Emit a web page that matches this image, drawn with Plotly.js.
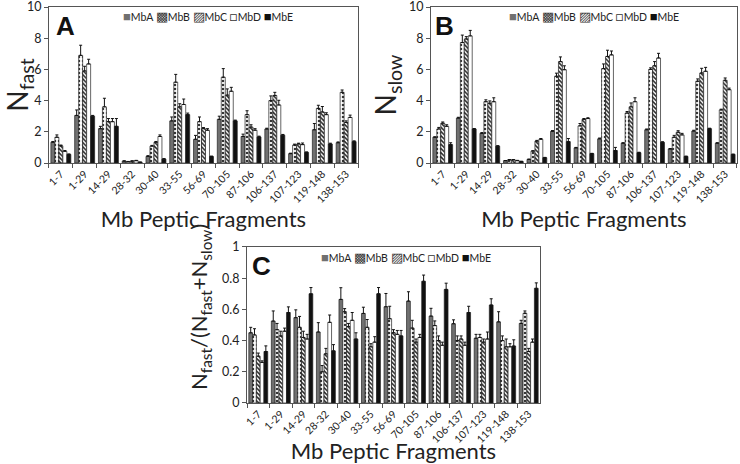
<!DOCTYPE html>
<html><head><meta charset="utf-8">
<script src="https://cdn.plot.ly/plotly-3.0.1.min.js"></script>
<style>html,body{margin:0;padding:0;background:#fff}#chart{width:740px;height:464px}</style>
</head><body><div id="chart"></div>
<script>
var fragments = ['1-7','1-29','14-29','28-32','30-40','33-55','56-69','70-105','87-106','106-137','107-123','119-148','138-153'];
var seriesNames = ['MbA','MbB','MbC','MbD','MbE'];

// Panel A: N_fast
var fastMbA = [1.33, 3.05, 2.2, 0.12, 0.42, 2.7, 1.52, 2.8, 1.7, 2.18, 0.6, 2.13, 1.3];
var fastMbB = [1.65, 6.9, 3.6, 0.08, 1.08, 5.18, 2.65, 5.5, 3.1, 4.0, 1.15, 3.5, 4.53];
var fastMbC = [1.1, 5.9, 2.65, 0.12, 1.33, 3.6, 2.2, 4.35, 2.3, 4.33, 1.22, 3.27, 2.6];
var fastMbD = [0.75, 6.35, 2.65, 0.15, 1.7, 3.75, 2.1, 4.6, 2.1, 3.72, 1.18, 3.1, 2.92];
var fastMbE = [0.55, 3.0, 2.35, 0.05, 0.25, 3.1, 0.42, 2.7, 1.67, 1.78, 0.68, 1.22, 1.37];
var fastErrA = [0.05, 0.35, 0.15, 0.02, 0.05, 0.25, 0.25, 0.2, 0.15, 0.05, 0.03, 0.4, 0.05];
var fastErrB = [0.15, 0.65, 0.55, 0.02, 0.05, 0.5, 0.3, 0.55, 0.25, 0.3, 0.06, 0.2, 0.15];
var fastErrC = [0.05, 0.3, 0.2, 0.02, 0.05, 0.2, 0.07, 0.4, 0.15, 0.2, 0.05, 0.35, 0.1];
var fastErrD = [0.05, 0.3, 0.2, 0.02, 0.1, 0.35, 0.1, 0.25, 0.1, 0.3, 0.1, 0.12, 0.15];
var fastErrE = [0.03, 0.05, 0.5, 0.01, 0.03, 0.1, 0.02, 0.05, 0.05, 0.05, 0.03, 0.05, 0.05];

// Panel B: N_slow
var slowMbA = [1.65, 2.88, 1.9, 0.15, 0.23, 2.03, 0.97, 1.55, 1.27, 2.13, 0.9, 2.05, 1.27];
var slowMbB = [2.18, 7.72, 3.93, 0.2, 0.76, 5.56, 2.38, 6.05, 3.2, 6.0, 1.65, 5.24, 3.4];
var slowMbC = [2.55, 7.95, 3.83, 0.2, 1.4, 6.5, 2.8, 6.83, 3.6, 6.23, 1.97, 5.77, 5.3];
var slowMbD = [2.35, 8.15, 3.93, 0.15, 1.52, 5.98, 2.85, 6.93, 3.93, 6.73, 1.8, 5.88, 4.7];
var slowMbE = [1.18, 2.18, 1.08, 0.1, 0.34, 1.37, 0.6, 0.8, 0.66, 1.33, 0.42, 2.2, 0.55];
var slowErrA = [0.03, 0.05, 0.05, 0.01, 0.02, 0.05, 0.03, 0.05, 0.03, 0.05, 0.03, 0.05, 0.03];
var slowErrB = [0.1, 0.48, 0.12, 0.02, 0.03, 0.2, 0.15, 0.3, 0.1, 0.1, 0.12, 0.15, 0.05];
var slowErrC = [0.08, 0.15, 0.15, 0.02, 0.05, 0.3, 0.05, 0.4, 0.25, 0.27, 0.1, 0.3, 0.15];
var slowErrD = [0.1, 0.35, 0.25, 0.02, 0.05, 0.25, 0.05, 0.25, 0.25, 0.3, 0.1, 0.25, 0.1];
var slowErrE = [0.12, 0.03, 0.03, 0.01, 0.02, 0.2, 0.02, 0.2, 0.03, 0.03, 0.02, 0.03, 0.02];

// Panel C: N_fast/(N_fast+N_slow)
var ratioMbA = [0.45, 0.525, 0.547, 0.455, 0.664, 0.574, 0.617, 0.653, 0.557, 0.508, 0.415, 0.52, 0.51];
var ratioMbB = [0.436, 0.47, 0.485, 0.2, 0.585, 0.485, 0.54, 0.48, 0.496, 0.40, 0.42, 0.40, 0.575];
var ratioMbC = [0.30, 0.43, 0.42, 0.315, 0.49, 0.36, 0.45, 0.39, 0.40, 0.41, 0.39, 0.36, 0.33];
var ratioMbD = [0.26, 0.46, 0.41, 0.517, 0.53, 0.39, 0.44, 0.42, 0.37, 0.37, 0.41, 0.36, 0.39];
var ratioMbE = [0.33, 0.58, 0.70, 0.334, 0.41, 0.70, 0.43, 0.78, 0.728, 0.58, 0.628, 0.365, 0.735];
var ratioErrA = [0.035, 0.065, 0.05, 0.06, 0.075, 0.04, 0.085, 0.06, 0.05, 0.025, 0.025, 0.065, 0.02];
var ratioErrB = [0.04, 0.04, 0.07, 0.04, 0.02, 0.05, 0.08, 0.05, 0.03, 0.03, 0.02, 0.03, 0.015];
var ratioErrC = [0.02, 0.03, 0.04, 0.035, 0.02, 0.02, 0.02, 0.02, 0.03, 0.02, 0.02, 0.05, 0.02];
var ratioErrD = [0.01, 0.02, 0.03, 0.047, 0.05, 0.035, 0.025, 0.02, 0.02, 0.02, 0.045, 0.02, 0.02];
var ratioErrE = [0.036, 0.036, 0.04, 0.04, 0.04, 0.04, 0.035, 0.04, 0.04, 0.04, 0.04, 0.04, 0.035];

var FONT = 'Lato, "Open Sans", sans-serif';
var styles = [
  {color:'#707070'},
  {color:'#ffffff', pattern:{shape:'.', fgcolor:'#333', bgcolor:'#fff', size:4, solidity:0.3}},
  {color:'#ffffff', pattern:{shape:'\\', fgcolor:'#222', bgcolor:'#fff', size:3, solidity:0.5}},
  {color:'#ffffff'},
  {color:'#111111'}
];

function makeTraces(vals, errs, xa, ya) {
  return vals.map(function(v, i) {
    var m = {color: styles[i].color, line:{color:'#222', width:0.7}};
    if (styles[i].pattern) m.pattern = styles[i].pattern;
    return {
      type:'bar', name: seriesNames[i], x: fragments, y: v,
      xaxis: xa, yaxis: ya, marker: m, showlegend:false,
      error_y: {type:'data', array: errs[i], arrayminus: errs[i].map(function(){return 0;}), symmetric:false,
                color:'#111', thickness:1, width:1.5}
    };
  });
}

var data = []
  .concat(makeTraces([fastMbA, fastMbB, fastMbC, fastMbD, fastMbE],
                     [fastErrA, fastErrB, fastErrC, fastErrD, fastErrE], 'x', 'y'))
  .concat(makeTraces([slowMbA, slowMbB, slowMbC, slowMbD, slowMbE],
                     [slowErrA, slowErrB, slowErrC, slowErrD, slowErrE], 'x2', 'y2'))
  .concat(makeTraces([ratioMbA, ratioMbB, ratioMbC, ratioMbD, ratioMbE],
                     [ratioErrA, ratioErrB, ratioErrC, ratioErrD, ratioErrE], 'x3', 'y3'));

function xAxis(dom, anchor) {
  return {domain: dom, anchor: anchor, type:'category', showline:true, mirror:true, linecolor:'#555', linewidth:1,
    ticks:'outside', tickson:'boundaries', ticklen:4, tickcolor:'#555', tickangle:-45,
    tickfont:{family:FONT, size:10.5, color:'#222'}, showgrid:false,
    title:{text:'Mb Peptic Fragments', font:{family:FONT, size:22, color:'#222'}, standoff:7}};
}
function yAxis(dom, anchor, range, tvals, title, tsize) {
  var ax = {domain: dom, anchor: anchor, range: range, tickmode:'array', tickvals: tvals,
    ticktext: tvals.map(function(v){return String(v);}), ticklabeloverflow:'allow', showline:true, mirror:true,
    linecolor:'#555', linewidth:1, ticks:'outside', ticklen:4, tickcolor:'#555', showgrid:false, zeroline:false,
    tickfont:{family:FONT, size:12.5, color:'#222'}};
  if (title) ax.title = {text:title, font:{family:FONT, size:tsize, color:'#222'}, standoff:4};
  return ax;
}

var yTicksN = [0, 2, 4, 6, 8, 10];
var yTicksR = [0, 0.2, 0.4, 0.6, 0.8, 1];

function sym(ch, col) { return '<span style="font-size:13px;color:' + col + '">' + ch + '</span>'; }
var legendText = sym('■', '#707070') + seriesNames[0] + ' ' + sym('▩', '#333') + seriesNames[1] + ' ' +
  sym('▨', '#333') + seriesNames[2] + ' ' + sym('□', '#333') + seriesNames[3] + ' ' + sym('■', '#111') + seriesNames[4];

function legendAnn(xr, yr, xpos, ypos) {
  return {xref: xr, yref: yr, x: xpos, y: ypos, text: legendText, showarrow:false,
    font:{family:FONT, size:10.5, color:'#222'}, xanchor:'center', yanchor:'middle'};
}
function panelLabel(xr, yr, xpos, ypos, t) {
  return {xref: xr, yref: yr, x: xpos, y: ypos, text: '<b>'+t+'</b>', showarrow:false,
    font:{family:'"Liberation Sans", Arial, sans-serif', size:26, color:'#111'}, xanchor:'left', yanchor:'middle'};
}

var layout = {
  width:740, height:464, margin:{l:0, r:0, t:0, b:0}, paper_bgcolor:'#fff', plot_bgcolor:'#fff',
  barmode:'group', bargap:0.16, bargroupgap:0, showlegend:false,
  xaxis: xAxis([0.0662, 0.4838], 'y'),
  yaxis: yAxis([0.6487, 1 - 7/464], 'x', [0, 10.0001], yTicksN, 'N<sub>fast</sub>', 28),
  xaxis2: xAxis([0.5824, 0.9959], 'y2'),
  yaxis2: yAxis([0.6487, 1 - 7/464], 'x2', [0, 10.0001], yTicksN, 'N<sub>slow</sub>', 28),
  xaxis3: xAxis([0.3338, 0.7297], 'y3'),
  yaxis3: yAxis([0.1315, 0.4677], 'x3', [0, 1.00001], yTicksR, null, 24),
  annotations: [
    legendAnn('x domain', 'y domain', 0.515, 0.943),
    legendAnn('x2 domain', 'y2 domain', 0.533, 0.943),
    legendAnn('x3 domain', 'y3 domain', 0.543, 0.936),
    panelLabel('x domain', 'y domain', 0.015, 0.88, 'A'),
    panelLabel('x2 domain', 'y2 domain', 0.005, 0.88, 'B'),
    panelLabel('x3 domain', 'y3 domain', 0.01, 0.878, 'C'),
    {xref:'paper', yref:'paper', x: 200/740, y: 1 - 307/464, textangle:-90, showarrow:false,
     xanchor:'center', yanchor:'middle',
     text:'N<sub>fast</sub>/(N<sub>fast</sub>+N<sub>slow</sub>)', font:{family:FONT, size:22, color:'#222'}}
  ]
};

Plotly.newPlot('chart', data, layout, {displayModeBar:false, staticPlot:true});
</script>
</body></html>
